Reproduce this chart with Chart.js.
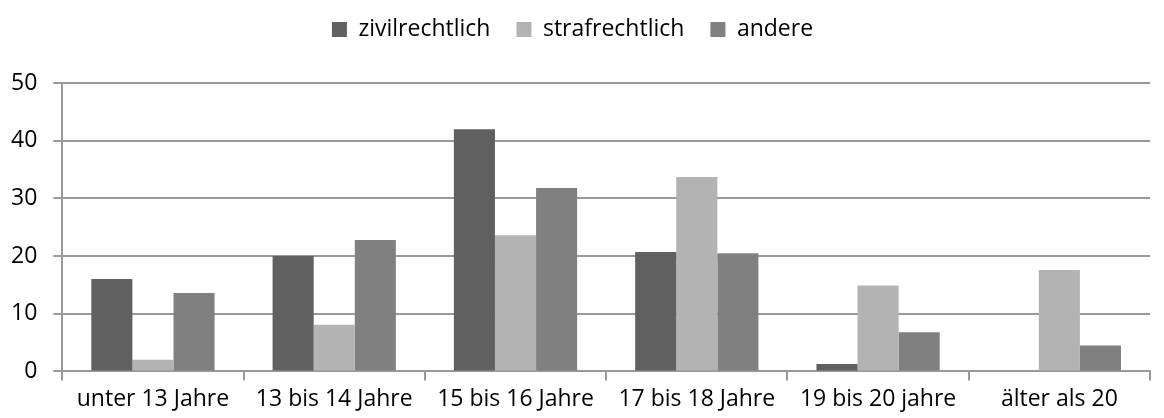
<!DOCTYPE html>
<html>
<head>
<meta charset="utf-8">
<script src="https://cdn.jsdelivr.net/npm/chart.js@4"></script>
<style>
  html, body { margin: 0; padding: 0; background: #fff; }
  #wrap { width: 1164px; height: 418px; }
</style>
</head>
<body>
<div id="wrap"><canvas id="chart"></canvas></div>
<script>
var categories = ["unter 13 Jahre", "13 bis 14 Jahre", "15 bis 16 Jahre", "17 bis 18 Jahre", "19 bis 20 jahre", "älter als 20"];
var zivilrechtlich = [16, 20, 42, 20.7, 1.3, 0];
var strafrechtlich = [2, 8.1, 23.6, 33.7, 14.9, 17.6];
var andere = [13.6, 22.8, 31.8, 20.5, 6.8, 4.5];
var yTicks = [0, 10, 20, 30, 40, 50];

var fontFamily = "'Open Sans', 'Noto Sans', sans-serif";

// extra room between legend and plot
var legendSpace = {
	id: "legendSpace",
	beforeInit: function (chart) {
		var origFit = chart.legend.fit;
		chart.legend.fit = function () {
			origFit.bind(chart.legend)();
			this.height += 32;
		};
	}
};

new Chart(document.getElementById("chart"), {
	type: "bar",
	data: {
		labels: categories,
		datasets: [
			{ label: "zivilrechtlich", data: zivilrechtlich, backgroundColor: "#606060" },
			{ label: "strafrechtlich", data: strafrechtlich, backgroundColor: "#b3b3b3" },
			{ label: "andere", data: andere, backgroundColor: "#808080" }
		]
	},
	options: {
		responsive: true,
		maintainAspectRatio: false,
		animation: false,
		layout: { padding: { left: -5, right: 14, top: -8, bottom: 0 } },
		datasets: { bar: { categoryPercentage: 0.68, barPercentage: 1 } },
		plugins: {
			legend: {
				position: "top",
				labels: {
					color: "#000",
					font: { family: fontFamily, size: 23 },
					boxWidth: 15,
					boxHeight: 15,
					padding: 26
				}
			},
			tooltip: { enabled: false }
		},
		scales: {
			x: {
				grid: { display: true, drawOnChartArea: false, color: "#999", lineWidth: 2, tickLength: 9, offset: true },
				border: { color: "#999", width: 2 },
				ticks: { color: "#000", font: { family: fontFamily, size: 23 }, padding: 5, maxRotation: 0 }
			},
			y: {
				min: 0,
				max: 50,
				afterBuildTicks: function (axis) {
					axis.ticks = yTicks.map(function (v) { return { value: v }; });
				},
				grid: { color: "#999", lineWidth: 2, tickLength: 9 },
				border: { color: "#999", width: 2 },
				ticks: { color: "#000", font: { family: fontFamily, size: 23 }, padding: 16 }
			}
		}
	},
	plugins: [legendSpace]
});
</script>
</body>
</html>
